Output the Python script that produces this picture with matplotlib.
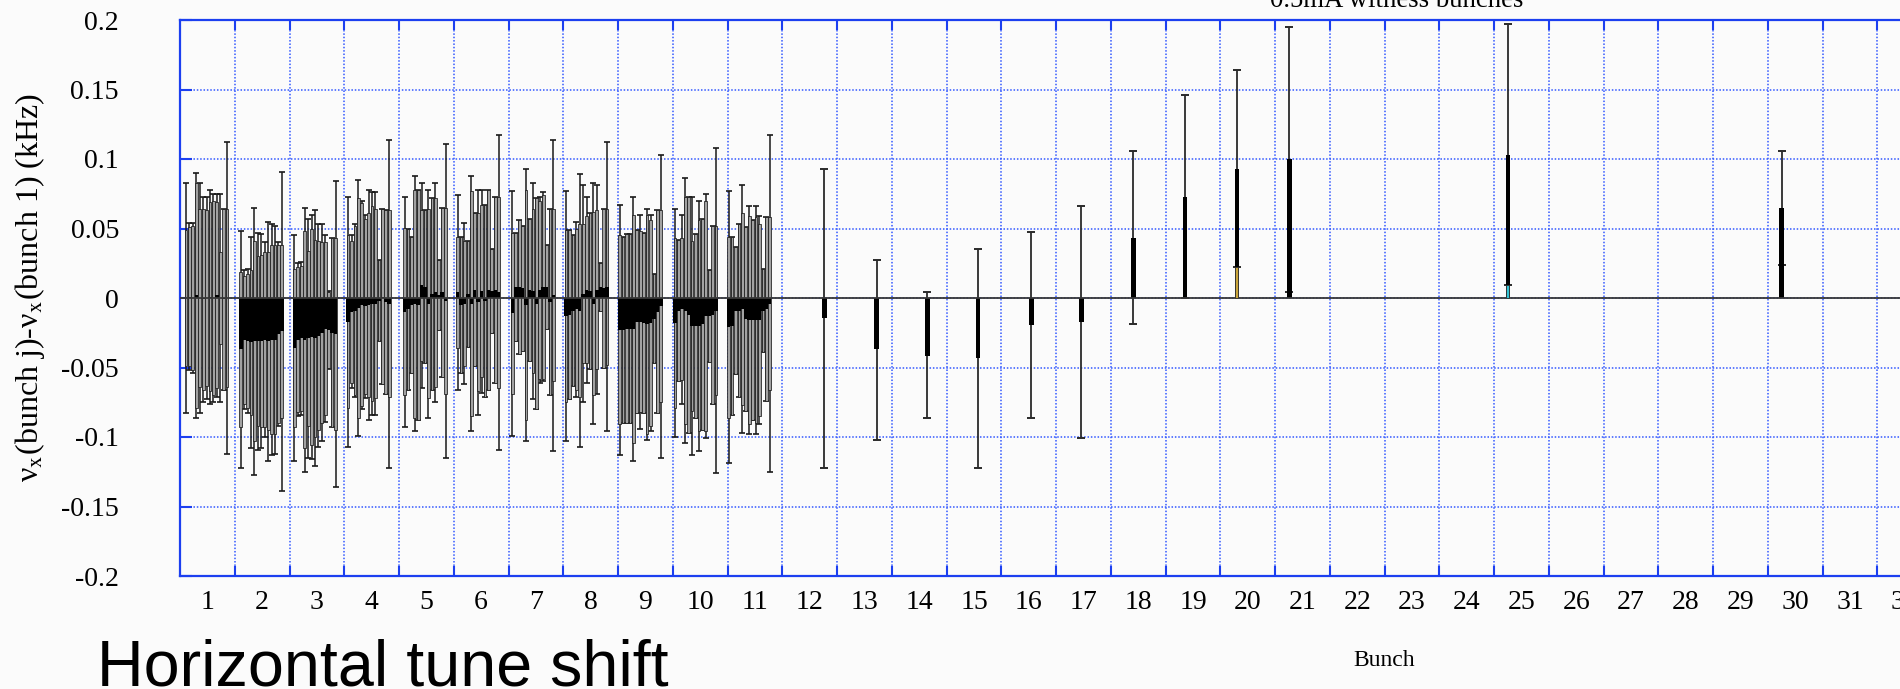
import numpy as np
import matplotlib
matplotlib.use('Agg')
import matplotlib.pyplot as plt
from matplotlib.ticker import FixedLocator, FuncFormatter, NullFormatter

plt.rcParams['axes.unicode_minus'] = False
plt.rcParams['mathtext.fontset'] = 'stix'

SERIF = ['Liberation Serif', 'DejaVu Serif']
SANS = ['Liberation Sans', 'DejaVu Sans']
BG = '#fbfbfb'
BLUE = '#1c3ff0'
GRID_BLUE = '#3358ff'

# ── trains of 13 bunches in bucket groups 1..11 ───────────────────────────────
# left edge of each train on the bunch axis
train_start = [0.61, 1.61, 2.59, 3.57, 4.60, 5.57, 6.57, 7.55, 8.53, 9.54, 10.52]
train_span = 0.75

# mean tune shift (kHz) of each bunch in the train
train_mean = [
    [0.000, 0.001, 0.000, 0.002, 0.000, -0.001, 0.000, 0.001, 0.000, 0.002, 0.000, -0.001, 0.000],
    [-0.037, -0.030, -0.031, -0.032, -0.031, -0.031, -0.031, -0.030, -0.031, -0.030, -0.030, -0.026, -0.024],
    [-0.036, -0.030, -0.029, -0.030, -0.029, -0.028, -0.029, -0.027, -0.025, -0.022, -0.023, -0.025, -0.026],
    [-0.017, -0.010, -0.009, -0.007, -0.005, -0.006, -0.005, -0.004, -0.004, -0.002, 0.001, -0.003, -0.004],
    [-0.010, -0.008, -0.005, -0.004, -0.005, 0.009, 0.008, -0.004, 0.003, 0.004, 0.002, 0.004, -0.002],
    [0.004, -0.005, -0.004, 0.003, -0.004, 0.006, -0.003, 0.005, -0.002, 0.006, 0.005, 0.006, 0.004],
    [-0.011, 0.008, 0.008, 0.007, -0.005, 0.006, 0.005, -0.004, 0.006, 0.008, 0.008, -0.003, 0.002],
    [-0.013, -0.012, -0.009, -0.008, -0.009, 0.003, 0.006, 0.005, -0.004, 0.006, 0.008, 0.007, 0.008],
    [-0.023, -0.023, -0.022, -0.022, -0.022, -0.017, -0.017, -0.018, -0.019, -0.018, -0.015, -0.010, -0.006],
    [-0.018, -0.009, -0.008, -0.009, -0.012, -0.020, -0.020, -0.020, -0.019, -0.013, -0.013, -0.012, -0.009],
    [-0.021, -0.020, -0.009, -0.009, -0.008, -0.015, -0.016, -0.016, -0.016, -0.016, -0.009, -0.008, -0.004],
]
# rms spread (box half height)
train_sigma = [
    [0.049, 0.050, 0.052, 0.081, 0.064, 0.065, 0.063, 0.068, 0.070, 0.067, 0.033, 0.065, 0.064],
    [0.056, 0.046, 0.048, 0.052, 0.072, 0.061, 0.062, 0.063, 0.064, 0.068, 0.068, 0.064, 0.062],
    [0.057, 0.052, 0.052, 0.078, 0.063, 0.078, 0.071, 0.068, 0.065, 0.062, 0.027, 0.068, 0.069],
    [0.062, 0.051, 0.061, 0.079, 0.073, 0.063, 0.066, 0.070, 0.068, 0.029, 0.063, 0.066, 0.067],
    [0.060, 0.058, 0.049, 0.082, 0.083, 0.054, 0.055, 0.068, 0.069, 0.068, 0.025, 0.061, 0.067],
    [0.040, 0.049, 0.045, 0.038, 0.081, 0.055, 0.064, 0.062, 0.069, 0.072, 0.030, 0.067, 0.069],
    [0.058, 0.039, 0.048, 0.045, 0.083, 0.051, 0.059, 0.076, 0.064, 0.066, 0.030, 0.067, 0.062],
    [0.062, 0.061, 0.054, 0.058, 0.062, 0.050, 0.053, 0.056, 0.066, 0.057, 0.017, 0.057, 0.056],
    [0.068, 0.067, 0.068, 0.068, 0.082, 0.066, 0.065, 0.065, 0.079, 0.074, 0.032, 0.073, 0.069],
    [0.061, 0.051, 0.051, 0.082, 0.085, 0.061, 0.066, 0.076, 0.076, 0.083, 0.033, 0.064, 0.061],
    [0.065, 0.064, 0.046, 0.062, 0.069, 0.066, 0.075, 0.072, 0.074, 0.069, 0.030, 0.066, 0.062],
]
# whisker half length (error bar caps)
train_spread = [
    [0.083, 0.053, 0.054, 0.088, 0.083, 0.074, 0.073, 0.077, 0.075, 0.073, 0.075, 0.065, 0.112],
    [0.085, 0.050, 0.052, 0.076, 0.096, 0.078, 0.077, 0.070, 0.086, 0.083, 0.082, 0.066, 0.115],
    [0.081, 0.055, 0.055, 0.095, 0.086, 0.088, 0.092, 0.080, 0.078, 0.067, 0.028, 0.068, 0.110],
    [0.090, 0.055, 0.062, 0.092, 0.075, 0.066, 0.083, 0.080, 0.080, 0.029, 0.063, 0.066, 0.118],
    [0.083, 0.058, 0.049, 0.092, 0.083, 0.074, 0.055, 0.082, 0.069, 0.079, 0.025, 0.061, 0.113],
    [0.070, 0.049, 0.058, 0.038, 0.092, 0.055, 0.081, 0.073, 0.069, 0.072, 0.030, 0.067, 0.113],
    [0.088, 0.039, 0.048, 0.045, 0.098, 0.051, 0.078, 0.076, 0.067, 0.068, 0.030, 0.067, 0.112],
    [0.090, 0.061, 0.054, 0.063, 0.098, 0.078, 0.067, 0.056, 0.087, 0.075, 0.017, 0.057, 0.104],
    [0.090, 0.067, 0.068, 0.068, 0.095, 0.066, 0.077, 0.065, 0.083, 0.078, 0.032, 0.073, 0.109],
    [0.082, 0.051, 0.068, 0.095, 0.085, 0.093, 0.066, 0.090, 0.076, 0.088, 0.033, 0.064, 0.117],
    [0.098, 0.064, 0.046, 0.062, 0.089, 0.066, 0.082, 0.072, 0.082, 0.075, 0.030, 0.066, 0.121],
]

# ── 0.5mA witness bunches ─────────────────────────────────────────────────────
witness_x = [12.27, 13.22, 14.15, 15.07, 16.05, 16.96, 17.91, 18.85, 19.80, 20.76, 24.75, 29.75]
witness_mean = [-0.0144, -0.0367, -0.0417, -0.0430, -0.0194, -0.0173,
                0.0430, 0.0730, 0.0928, 0.1000, 0.1030, 0.0650]
witness_hi = [0.0928, 0.0273, 0.0043, 0.0353, 0.0475, 0.0660,
              0.1060, 0.1460, 0.1640, 0.1950, 0.1970, 0.1060]
witness_lo = [-0.1223, -0.1020, -0.0863, -0.1223, -0.0863, -0.1007,
              -0.0187, 0.0000, 0.0225, 0.0043, 0.0095, 0.0237]
# two witness bunches with a separate coloured reading near zero
marked_x = [19.80, 24.75]
marked_val = [0.0225, 0.0095]
marked_col = ['#c9a43a', '#33c3d4']

yticks = [-0.2, -0.15, -0.1, -0.05, 0.0, 0.05, 0.1, 0.15, 0.2]
bunch_labels = list(range(1, 34))

# ── Figure ────────────────────────────────────────────────────────────────────
fig = plt.figure(figsize=(19, 6.89), dpi=100, facecolor=BG)
ax = fig.add_axes([180 / 1900, 113 / 689, 1807 / 1900, 556 / 689])
ax.set_facecolor(BG)

pitch = train_span / 12
for k in range(len(train_start)):
    xs = train_start[k] + np.arange(13) * pitch
    m = np.array(train_mean[k])
    s = np.array(train_sigma[k])
    w = np.array(train_spread[k])
    ax.errorbar(xs, m, yerr=w, fmt='none', ecolor='#1a1a1a',
                elinewidth=1.1, capsize=2.4, capthick=1.2, zorder=2)
    ax.bar(xs, 2 * s, bottom=m - s, width=pitch * 0.8, color='#a2a2a2',
           edgecolor='#1a1a1a', linewidth=0.55, zorder=2.5)
    ax.bar(xs, m, width=pitch * 1.02, color='black', linewidth=0, zorder=3)

wx = np.array(witness_x)
whi = np.array(witness_hi)
wlo = np.array(witness_lo)
ax.errorbar(wx, (whi + wlo) / 2, yerr=(whi - wlo) / 2, fmt='none',
            ecolor='#2a2a2a', elinewidth=1.3, capsize=3, capthick=1.4, zorder=2)
ax.bar(wx, witness_mean, width=0.08, color='black', linewidth=0, zorder=3)
ax.bar(marked_x, marked_val, width=0.055, color=marked_col,
       edgecolor='#333333', linewidth=0.6, zorder=4)

ax.axhline(0, color='#383838', linewidth=1.3, zorder=3.5)

ax.set_xlim(0.5, 33.5)
ax.set_ylim(-0.2, 0.2)

ax.xaxis.set_major_locator(FixedLocator(np.arange(1.5, 33.5, 1)))
ax.xaxis.set_major_formatter(NullFormatter())
ax.xaxis.set_minor_locator(FixedLocator(bunch_labels))
ax.xaxis.set_minor_formatter(FuncFormatter(lambda v, _: f'{int(round(v))}'))
ax.yaxis.set_major_locator(FixedLocator(yticks))
ax.yaxis.set_major_formatter(FuncFormatter(lambda v, _: f'{round(v, 2):g}'))

ax.grid(which='major', color=GRID_BLUE, linestyle=(0, (1, 1.2)), linewidth=1.1, zorder=0.5)
ax.set_axisbelow(True)

ax.tick_params(axis='x', which='major', direction='in', length=7, width=1.5,
               color=BLUE, top=True, bottom=True)
ax.tick_params(axis='x', which='minor', length=0, pad=10, labelsize=20)
ax.tick_params(axis='y', which='major', direction='in', length=8.5, width=1.5,
               color=BLUE, left=True, right=True, pad=44, labelsize=20)
for lab in ax.get_xticklabels(minor=True) + ax.get_yticklabels():
    lab.set_family(SERIF)

for sp in ax.spines.values():
    sp.set_color(BLUE)
    sp.set_linewidth(1.6)

fig.text(30 / 1900, 1 - 288 / 689,
         r'ν$_{\mathrm{x}}$(bunch j)-ν$_{\mathrm{x}}$(bunch 1) (kHz)',
         rotation=90, ha='center', va='center', fontsize=23, family=SERIF)
fig.text(1384 / 1900, 1 - 660 / 689, 'Bunch', ha='center', va='center',
         fontsize=17, family=SERIF)
fig.text(1397 / 1900, 1 - 7 / 689, '0.5mA witness bunches', ha='center',
         va='baseline', fontsize=19.3, family=SERIF)
fig.text(97 / 1900, 4 / 689, 'Horizontal tune shift', ha='left',
         va='baseline', fontsize=46.5, family=SANS)

fig.savefig('out.png', dpi=100, facecolor=BG)
